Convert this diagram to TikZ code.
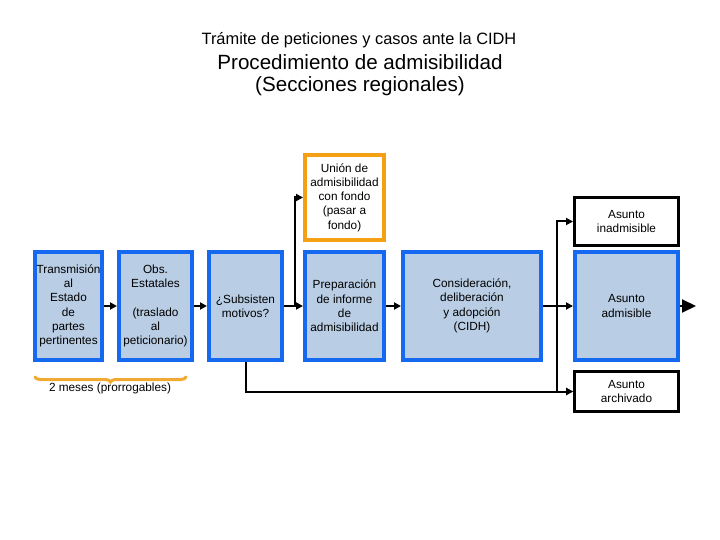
\documentclass[tikz,border=0pt]{standalone}
\usepackage{fontspec}
\setmainfont{Liberation Sans}
\usetikzlibrary{arrows.meta,decorations.pathreplacing,calc}
\definecolor{bluebd}{RGB}{20,105,240}
\definecolor{bluefill}{RGB}{185,205,228}
\definecolor{orangebd}{RGB}{245,160,20}
\definecolor{bracecol}{RGB}{240,170,50}
\begin{document}
\begin{tikzpicture}[x=1pt,y=-1pt,
  boxtext/.style={font=\fontsize{11.8}{14.3}\selectfont, align=center, inner sep=0pt},
  bluebox/.style={boxtext, draw=bluebd, fill=bluefill, line width=4pt, minimum height=108pt},
  orangebox/.style={boxtext, draw=orangebd, fill=white, line width=4pt},
  blackbox/.style={boxtext, draw=black, fill=white, line width=3pt},
  arr/.style={draw=black, line width=2pt, -{Triangle[length=7pt,width=7pt]}},
  ln/.style={draw=black, line width=2pt}]
\useasboundingbox (0,0) rectangle (720,540);
% titles
\node[font=\fontsize{16.4}{18}\selectfont] (t1) at (359,40) {Trámite de peticiones y casos ante la CIDH};
\node[font=\fontsize{20.6}{24}\selectfont] (t2) at (360,62) {Procedimiento de admisibilidad};
\node[font=\fontsize{20.6}{24}\selectfont] (t3) at (360,86) {(Secciones regionales)};
% boxes
\node[bluebox, minimum width=67pt] (b1) at (68.5,306) {Transmisión\\al\\Estado\\de\\partes\\pertinentes};
\node[bluebox, minimum width=73pt] (b2) at (155.5,306) {Obs.\\Estatales\\ \\(traslado\\al\\peticionario)};
\node[bluebox, minimum width=73pt] (b3) at (245.5,306) {¿Subsisten\\motivos?};
\node[bluebox, minimum width=79pt] (b4) at (344.5,306) {Preparación\\de informe\\de\\admisibilidad};
\node[orangebox, minimum width=79pt, minimum height=85pt] (or) at (344.5,197.5) {Unión de\\admisibilidad\\con fondo\\(pasar a\\fondo)};
\node[bluebox, minimum width=138pt] (b5) at (472,306) {Consideración,\\deliberación\\y adopción\\(CIDH)};
\node[bluebox, minimum width=103pt] (adm) at (626.5,306) {Asunto\\admisible};
\node[blackbox, minimum width=104pt, minimum height=48pt] (inad) at (626.5,221.5) {Asunto\\inadmisible};
\node[blackbox, minimum width=104pt, minimum height=40pt] (arch) at (626.5,391.5) {Asunto\\archivado};
% connectors
\draw[arr] (b1) -- (b2);
\draw[arr] (b2) -- (b3);
\draw[arr] (b3) -- (b4);
\coordinate (j1) at (295,306);
\draw[arr] (j1) |- (or.west);
\draw[arr] (b4) -- (b5);
\draw[arr] (b5) -- (adm);
\coordinate (j2) at (557,306);
\draw[arr] (j2) |- (inad.west);
\draw[arr] (j2) |- (arch.west);
\draw[arr] (b3.south) |- (arch.west);
\coordinate (out) at (696,306);
\draw[line width=2pt, -{Triangle[length=14pt,width=13pt]}] (adm.east) -- (out);
% brace
\coordinate (bl) at (35,377);
\coordinate (br) at (186,377);
\draw[bracecol, line width=3pt, line cap=round, decorate, decoration={brace, amplitude=5pt, mirror}] (bl) -- (br);
\node[boxtext] (lab) at (110,388) {2 meses (prorrogables)};
\end{tikzpicture}
\end{document}
